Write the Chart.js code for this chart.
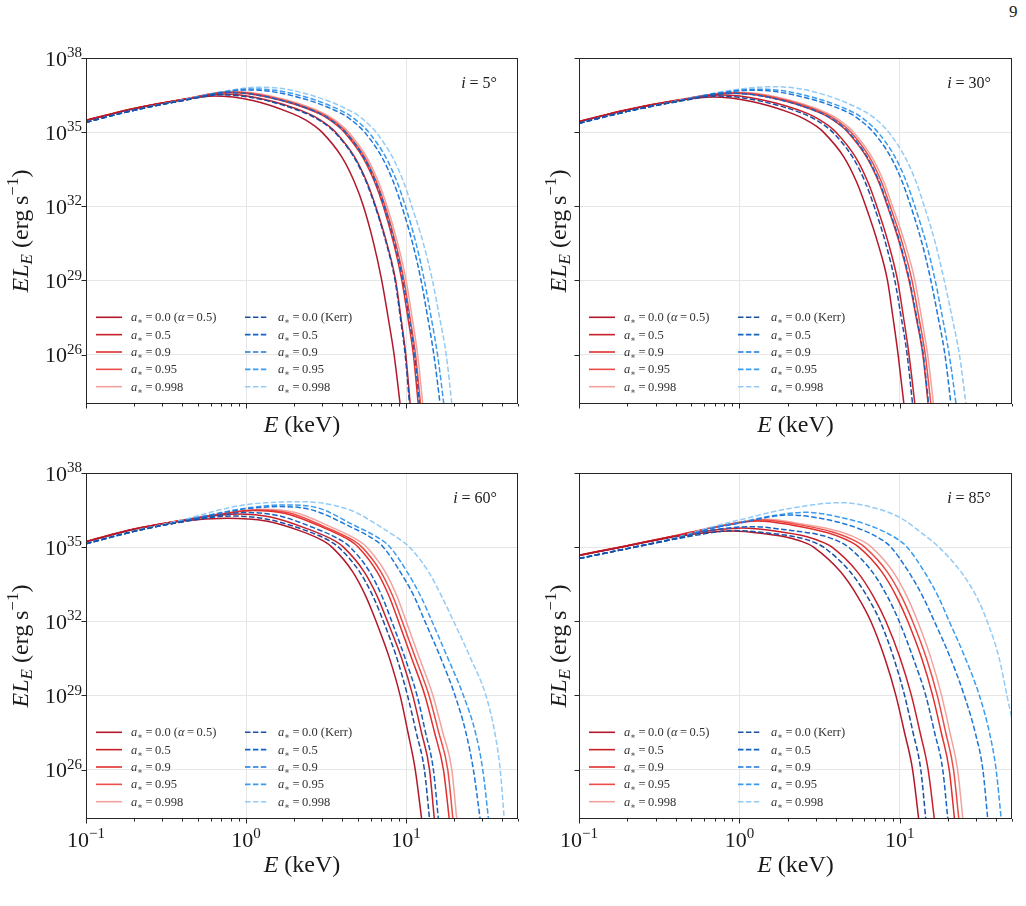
<!DOCTYPE html>
<html>
<head>
<meta charset="utf-8">
<script src="https://cdn.jsdelivr.net/npm/chart.js@4.4.1/dist/chart.umd.min.js"></script>
<style>
  html, body { margin: 0; padding: 0; background: #fff; }
  body { width: 1026px; height: 906px; position: relative; overflow: hidden; }
  .panel { position: absolute; }
  #page-num { position: absolute; left: 1009px; top: 2px; font: 17px 'Liberation Serif', 'DejaVu Serif', serif; color: #222; }
</style>
</head>
<body>
<div id="page-num">9</div>
<div class="panel" style="left:0px;top:0px"><canvas id="p0" width="524" height="460"></canvas></div>
<div class="panel" style="left:493px;top:0px"><canvas id="p1" width="525" height="460"></canvas></div>
<div class="panel" style="left:0px;top:415px"><canvas id="p2" width="524" height="491"></canvas></div>
<div class="panel" style="left:493px;top:415px"><canvas id="p3" width="525" height="491"></canvas></div>
<script>
// spin labels, inclinations and axis ticks
const spinValues = ['0.0', '0.5', '0.9', '0.95', '0.998'];
const inclinations = [5, 30, 60, 85];
const xTickValues = [0.1, 0.2, 0.3, 0.4, 0.5, 0.6, 0.7, 0.8, 0.9, 1, 2, 3, 4, 5, 6, 7, 8, 9, 10, 20, 30, 40, 50];
const xTickLabels = { 0.1: '\u22121', 1: '0', 10: '1' };
const yTickValues = [1e26, 1e29, 1e32, 1e35, 1e38];
const yTickLabels = { 1e26: '26', 1e29: '29', 1e32: '32', 1e35: '35', 1e38: '38' };

const redColors = ['#b2182b', '#c8202a', '#df2f2f', '#eb4c46', '#f3a29d'];
const blueColors = ['#1b4fa3', '#1662c2', '#1d78da', '#3b9cef', '#93cbf6'];

// curves: [E (keV), log10 E L_E]
const inc5Alpha = [
  [[0.1,35.47],[0.2,35.95],[0.4,36.31],[0.63,36.46],[1.1,36.28],[1.95,35.75],[2.35,35.5],[2.68,35.25],[2.98,35],[3.96,34],[4.74,33],[5.41,32],[6.27,30.5],[7.04,29],[7.72,27.5],[8.41,26],[9.17,24],[9.93,22]],
  [[0.1,35.47],[0.2,35.95],[0.4,36.31],[0.7,36.54],[1.23,36.36],[2.46,35.75],[2.9,35.5],[3.29,35.25],[3.63,35],[4.76,34],[5.67,33],[6.45,32],[7.58,30.5],[8.6,29],[9.28,27.5],[9.95,26],[10.6,24],[11.25,22]],
  [[0.1,35.48],[0.2,35.96],[0.4,36.32],[0.77,36.6],[1.35,36.42],[2.86,35.75],[3.33,35.5],[3.74,35.25],[4.11,35],[5.34,34],[6.34,33],[7.2,32],[8.36,30.5],[9.4,29],[10.25,27.5],[11.1,26],[11.9,24],[12.7,22]],
  [[0.1,35.48],[0.2,35.96],[0.4,36.32],[0.79,36.62],[1.38,36.44],[2.97,35.75],[3.45,35.5],[3.87,35.25],[4.24,35],[5.5,34],[6.52,33],[7.4,32],[8.61,30.5],[9.7,29],[10.57,27.5],[11.45,26],[12.3,24],[13.15,22]],
  [[0.1,35.49],[0.2,35.97],[0.4,36.33],[0.81,36.64],[1.42,36.46],[3.09,35.75],[3.57,35.5],[3.99,35.25],[4.38,35],[5.66,34],[6.7,33],[7.6,32],[8.86,30.5],[10.0,29],[10.9,27.5],[11.8,26],[12.7,24],[13.6,22]]
];
const inc5Kerr = [
  [[0.1,35.40],[0.2,35.89],[0.4,36.27],[0.7,36.51],[1.23,36.33],[2.39,35.75],[2.84,35.5],[3.23,35.25],[3.57,35],[4.71,34],[5.62,33],[6.4,32],[7.52,30.5],[8.53,29],[9.2,27.5],[9.86,26],[10.5,24],[11.14,22]],
  [[0.1,35.40],[0.2,35.89],[0.4,36.28],[0.78,36.6],[1.37,36.42],[2.9,35.75],[3.37,35.5],[3.79,35.25],[4.17,35],[5.42,34],[6.43,33],[7.3,32],[8.49,30.5],[9.55,29],[10.42,27.5],[11.3,26],[12.1,24],[12.9,22]],
  [[0.1,35.40],[0.2,35.89],[0.4,36.28],[0.7,36.6],[1.02,36.71],[1.79,36.53],[3.96,35.75],[4.53,35.5],[5.04,35.25],[5.5,35],[7.04,34],[8.31,33],[9.4,32],[10.98,30.5],[12.4,29],[13.64,27.5],[14.9,26],[16.3,24],[17.7,22]],
  [[0.1,35.40],[0.2,35.89],[0.4,36.29],[0.7,36.61],[1.1,36.75],[1.93,36.57],[4.26,35.75],[4.84,35.5],[5.36,35.25],[5.84,35],[7.44,34],[8.76,33],[9.9,32],[11.53,30.5],[13.0,29],[14.34,27.5],[15.7,26],[17.2,24],[18.7,22]],
  [[0.1,35.40],[0.2,35.89],[0.4,36.3],[0.7,36.63],[1.2,36.82],[2.1,36.64],[4.82,35.75],[5.43,35.5],[5.98,35.25],[6.49,35],[8.2,34],[9.62,33],[10.85,32],[12.81,30.5],[14.6,29],[16.18,27.5],[17.8,26],[19.3,24],[20.8,22]]
];

const inc30Alpha = [
  [[0.1,35.42],[0.2,35.9],[0.4,36.26],[0.68,36.42],[1.19,36.24],[2.14,35.75],[2.6,35.5],[3.0,35.25],[3.34,35],[4.47,34],[5.36,33],[6.13,32],[7.3,30.5],[8.37,29],[9.06,27.5],[9.75,26],[10.6,24],[11.45,22]],
  [[0.1,35.42],[0.2,35.9],[0.4,36.27],[0.77,36.5],[1.35,36.32],[2.67,35.75],[3.17,35.5],[3.61,35.25],[4.0,35],[5.28,34],[6.3,33],[7.18,32],[8.49,30.5],[9.68,29],[10.54,27.5],[11.4,26],[12.4,24],[13.4,22]],
  [[0.1,35.43],[0.2,35.91],[0.4,36.28],[0.9,36.57],[1.58,36.39],[3.26,35.75],[3.82,35.5],[4.31,35.25],[4.74,35],[6.19,34],[7.36,33],[8.37,32],[9.95,30.5],[11.4,29],[12.64,27.5],[13.9,26],[15.0,24],[16.1,22]],
  [[0.1,35.43],[0.2,35.91],[0.4,36.28],[0.93,36.59],[1.63,36.41],[3.43,35.75],[4.0,35.5],[4.5,35.25],[4.96,35],[6.45,34],[7.66,33],[8.7,32],[10.37,30.5],[11.9,29],[13.14,27.5],[14.4,26],[15.6,24],[16.8,22]],
  [[0.1,35.44],[0.2,35.92],[0.4,36.29],[0.96,36.61],[1.68,36.43],[3.59,35.75],[4.18,35.5],[4.69,35.25],[5.15,35],[6.68,34],[7.93,33],[9.0,32],[10.77,30.5],[12.4,29],[13.64,27.5],[14.9,26],[16.2,24],[17.5,22]]
];
const inc30Kerr = [
  [[0.1,35.36],[0.2,35.84],[0.4,36.22],[0.74,36.46],[1.3,36.28],[2.49,35.75],[3.0,35.5],[3.43,35.25],[3.81,35],[5.06,34],[6.06,33],[6.91,32],[8.16,30.5],[9.3,29],[10.2,27.5],[11.1,26],[12.0,24],[12.9,22]],
  [[0.1,35.36],[0.2,35.84],[0.4,36.23],[0.9,36.57],[1.58,36.39],[3.29,35.75],[3.86,35.5],[4.35,35.25],[4.79,35],[6.25,34],[7.43,33],[8.45,32],[10.04,30.5],[11.5,29],[12.74,27.5],[14.0,26],[15.1,24],[16.2,22]],
  [[0.1,35.36],[0.2,35.84],[0.4,36.24],[0.7,36.55],[1.22,36.7],[2.14,36.52],[4.91,35.75],[5.62,35.5],[6.25,35.25],[6.83,35],[8.76,34],[10.33,33],[11.7,32],[13.75,30.5],[15.6,29],[17.33,27.5],[19.1,26],[20.8,24],[22.5,22]],
  [[0.1,35.36],[0.2,35.84],[0.4,36.24],[0.7,36.56],[1.32,36.74],[2.31,36.56],[5.31,35.75],[6.04,35.5],[6.7,35.25],[7.3,35],[9.32,34],[10.97,33],[12.4,32],[14.6,30.5],[16.6,29],[18.43,27.5],[20.3,26],[22.4,24],[24.5,22]],
  [[0.1,35.36],[0.2,35.84],[0.4,36.25],[0.7,36.58],[1.0,36.74],[1.6,36.84],[2.8,36.66],[6.36,35.75],[7.15,35.5],[7.87,35.25],[8.52,35],[10.75,34],[12.6,33],[14.2,32],[16.66,30.5],[18.9,29],[21.17,27.5],[23.5,26],[25.8,24],[28.1,22]]
];

const inc60Alpha = [
  [[0.1,35.22],[0.2,35.72],[0.4,36.06],[0.76,36.17],[1.33,36.06],[2.18,35.66],[3.04,35.25],[3.44,35],[4.64,34],[5.61,33],[6.49,32],[7.88,30.5],[9.17,29],[10.27,27.5],[11.4,26],[12.5,24],[13.6,22]],
  [[0.1,35.22],[0.2,35.72],[0.4,36.08],[0.89,36.34],[1.42,36.22],[2.42,35.74],[3.59,35.25],[4.06,35],[5.47,34],[6.61,33],[7.64,32],[9.37,30.5],[11.0,29],[12.47,27.5],[14.0,26],[15.0,24],[16.0,22]],
  [[0.1,35.23],[0.2,35.73],[0.4,36.09],[0.7,36.33],[1.1,36.48],[1.76,36.36],[3.01,35.8],[4.49,35.25],[5.03,35],[6.59,34],[7.84,33],[8.95,32],[10.83,30.5],[13.1,29],[15.05,27.5],[17.1,26],[18.6,24],[20.1,22]],
  [[0.1,35.23],[0.2,35.73],[0.4,36.09],[0.7,36.34],[1.17,36.5],[1.87,36.38],[3.13,35.81],[4.73,35.25],[5.3,35],[6.95,34],[8.27,33],[9.45,32],[11.46,30.5],[13.9,29],[15.99,27.5],[18.2,26],[19.6,24],[21.0,22]],
  [[0.1,35.24],[0.2,35.74],[0.4,36.1],[0.7,36.35],[1.25,36.53],[2.0,36.41],[3.35,35.83],[5.08,35.25],[5.68,35],[7.41,34],[8.78,33],[10.0,32],[12.13,30.5],[14.7,29],[16.94,27.5],[19.3,26],[20.7,24],[22.1,22]]
];
const inc60Kerr = [
  [[0.1,35.14],[0.2,35.64],[0.4,36.02],[0.83,36.26],[1.33,36.14],[2.3,35.7],[3.33,35.25],[3.78,35],[5.12,34],[6.22,33],[7.21,32],[8.76,30.5],[10.2,29],[11.57,27.5],[13.0,26],[14.0,24],[15.0,22]],
  [[0.1,35.14],[0.2,35.64],[0.4,36.03],[0.7,36.3],[0.98,36.4],[1.57,36.28],[2.68,35.77],[3.98,35.25],[4.47,35],[5.92,34],[7.08,33],[8.13,32],[9.86,30.5],[11.7,29],[13.22,27.5],[14.8,26],[15.9,24],[17.0,22]],
  [[0.1,35.14],[0.2,35.64],[0.4,36.05],[0.7,36.38],[1.0,36.55],[1.59,36.64],[2.54,36.52],[4.31,35.88],[6.52,35.25],[7.21,35],[9.19,34],[11.23,33],[13.1,32],[16.49,30.5],[20.2,29],[23.63,27.5],[26.3,26],[29.0,24],[31.7,22]],
  [[0.1,35.14],[0.2,35.64],[0.4,36.06],[0.7,36.4],[1.0,36.58],[1.75,36.71],[2.8,36.59],[4.65,35.91],[7.17,35.25],[7.94,35],[10.14,34],[12.36,33],[14.5,32],[18.25,30.5],[22.8,29],[27.1,27.5],[30.1,26],[32.7,24],[35.3,22]],
  [[0.1,35.15],[0.2,35.66],[0.4,36.1],[0.7,36.52],[1.0,36.72],[2.2,36.84],[4.47,36.5],[6.9,35.83],[9.17,35.3],[10.5,35],[13.8,34],[16.7,33],[19.8,32],[25.3,30.5],[31.5,29],[35.8,27.5],[38.7,26],[41.0,24],[43.3,22]]
];

const inc85Alpha = [
  [[0.1,34.66],[0.2,35.05],[0.4,35.42],[0.9,35.65],[1.4,35.55],[2.1,35.36],[2.67,35.13],[2.9,35],[4.27,34],[5.46,33],[6.59,32],[8.06,30.5],[9.44,29],[10.69,27.5],[12.0,26],[13.1,24],[14.2,22]],
  [[0.1,34.66],[0.2,35.05],[0.4,35.45],[1.05,35.77],[1.63,35.66],[2.64,35.42],[3.44,35.15],[3.78,35],[5.43,34],[6.85,33],[8.18,32],[10.04,30.5],[11.8,29],[13.37,27.5],[15.0,26],[16.4,24],[17.8,22]],
  [[0.1,34.67],[0.2,35.06],[0.4,35.46],[0.7,35.8],[1.3,36.06],[2.1,35.9],[3.55,35.58],[4.94,35.21],[5.55,35],[7.72,34],[9.53,33],[11.2,32],[13.68,30.5],[16.0,29],[18.11,27.5],[20.3,26],[21.9,24],[23.5,22]],
  [[0.1,34.67],[0.2,35.06],[0.4,35.46],[0.7,35.81],[1.4,36.1],[2.2,35.94],[3.85,35.6],[5.37,35.22],[6.04,35],[8.34,34],[10.25,33],[12.0,32],[14.64,30.5],[17.1,29],[19.31,27.5],[21.6,26],[23.3,24],[25.0,22]],
  [[0.1,34.68],[0.2,35.07],[0.4,35.47],[0.7,35.82],[1.5,36.13],[2.35,35.96],[4.26,35.62],[5.91,35.23],[6.65,35],[9.08,34],[11.08,33],[12.9,32],[15.64,30.5],[18.2,29],[20.51,27.5],[22.9,26],[24.7,24],[26.5,22]]
];
const inc85Kerr = [
  [[0.1,34.54],[0.2,34.94],[0.4,35.33],[0.95,35.67],[1.5,35.57],[2.41,35.37],[3.08,35.13],[3.35,35],[4.9,34],[6.26,33],[7.54,32],[9.17,30.5],[10.7,29],[12.08,27.5],[13.5,26],[14.5,24],[15.5,22]],
  [[0.1,34.54],[0.2,34.94],[0.4,35.34],[0.7,35.7],[1.2,35.83],[1.95,35.7],[3.33,35.46],[4.35,35.17],[4.78,35],[6.73,34],[8.37,33],[9.9,32],[12.12,30.5],[14.5,29],[16.46,27.5],[18.5,26],[19.9,24],[21.3,22]],
  [[0.1,34.54],[0.2,34.94],[0.4,35.35],[0.7,35.78],[1.0,35.97],[2.0,36.3],[3.3,36.15],[5.71,35.72],[7.88,35.26],[8.8,35],[11.34,34],[13.9,33],[16.4,32],[20.71,30.5],[25.2,29],[29.48,27.5],[32.9,26],[35.3,24],[37.7,22]],
  [[0.1,34.54],[0.2,34.94],[0.4,35.36],[0.7,35.8],[1.0,36.0],[1.6,36.27],[2.6,36.41],[4.3,36.2],[7.07,35.78],[9.89,35.28],[11.1,35],[14.22,34],[17.34,33],[20.3,32],[25.63,30.5],[31.3,29],[36.15,27.5],[39.8,26],[42.8,24],[45.8,22]],
  [[0.1,34.55],[0.2,34.96],[0.4,35.38],[0.7,35.85],[1.0,36.1],[2.0,36.55],[4.3,36.8],[7.0,36.58],[10.0,36.2],[13.5,35.6],[17.5,35],[24.04,34],[30.03,33],[35.0,32],[41.6,30.5],[46.5,29],[50.5,27.9],[56,26.5]]
];

const alphaSets = [inc5Alpha, inc30Alpha, inc60Alpha, inc85Alpha];
const kerrSets = [inc5Kerr, inc30Kerr, inc60Kerr, inc85Kerr];

const SERIF = "'Liberation Serif', 'DejaVu Serif', serif";
const f = (size, italic) => (italic ? 'italic ' : '') + size + 'px ' + SERIF;

function isDecade(v) {
  const l = Math.log10(v);
  return Math.abs(l - Math.round(l)) < 1e-6;
}

// draw a row of text pieces with their own fonts and baseline shifts
function drawRuns(ctx, runs, x, y, align) {
  let total = 0;
  runs.forEach(r => { ctx.font = r.font; r.w = ctx.measureText(r.t).width; total += r.w; });
  let cx = align === 'center' ? x - total / 2 : (align === 'right' ? x - total : x);
  runs.forEach(r => {
    ctx.font = r.font;
    ctx.fillText(r.t, cx, y + (r.dy || 0));
    cx += r.w;
  });
}

function legendRuns(ds) {
  const runs = [
    { t: 'a', font: f(12.5, true) },
    { t: '\u2217', font: f(8.5), dy: 3 },
    { t: '\u2009=\u2009' + ds.spin, font: f(12.5) }
  ];
  if (ds.note === 'alpha') {
    runs.push({ t: ' (', font: f(12.5) }, { t: '\u03b1', font: f(12.5, true) }, { t: '\u2009=\u20090.5)', font: f(12.5) });
  } else if (ds.note === 'kerr') {
    runs.push({ t: ' (Kerr)', font: f(12.5) });
  }
  return runs;
}

const decorPlugin = {
  id: 'decor',
  afterDraw(chart, args, opts) {
    const { ctx, chartArea: a, scales: { x, y } } = chart;
    ctx.save();
    ctx.textAlign = 'left';
    ctx.textBaseline = 'alphabetic';

    // frame
    ctx.strokeStyle = '#262626';
    ctx.lineWidth = 1;
    ctx.strokeRect(a.left + 0.5, a.top + 0.5, a.right - a.left - 1, a.bottom - a.top - 1);

    // tick marks
    ctx.beginPath();
    x.ticks.forEach(t => {
      const px = Math.round(x.getPixelForValue(t.value)) + 0.5;
      const len = isDecade(t.value) ? 4.5 : 2.5;
      ctx.moveTo(px, a.bottom);
      ctx.lineTo(px, a.bottom + len);
    });
    y.ticks.forEach(t => {
      const py = Math.round(y.getPixelForValue(t.value)) + 0.5;
      ctx.moveTo(a.left, py);
      ctx.lineTo(a.left - 4.5, py);
    });
    ctx.stroke();

    ctx.fillStyle = '#1a1a1a';
    // tick labels
    if (opts.yLabels) {
      y.ticks.forEach(t => {
        const py = y.getPixelForValue(t.value);
        drawRuns(ctx, [{ t: '10', font: f(22) }, { t: yTickLabels[t.value], font: f(15), dy: -8.5 }], a.left - 4, py + 7.7, 'right');
      });
    }
    if (opts.xLabels) {
      x.ticks.forEach(t => {
        if (!(t.value in xTickLabels)) return;
        const px = x.getPixelForValue(t.value);
        drawRuns(ctx, [{ t: '10', font: f(22) }, { t: xTickLabels[t.value], font: f(15), dy: -9 }], px, a.bottom + 28, 'center');
      });
    }

    // axis titles
    drawRuns(ctx, [{ t: 'E', font: f(24, true) }, { t: ' (keV)', font: f(24) }],
      (a.left + a.right) / 2, a.bottom + (opts.xLabels ? 53 : 28), 'center');
    ctx.save();
    ctx.translate(a.left - (opts.yLabels ? 58 : 13), (a.top + a.bottom) / 2);
    ctx.rotate(-Math.PI / 2);
    drawRuns(ctx, [
      { t: 'EL', font: f(24, true) },
      { t: 'E', font: f(17, true), dy: 4 },
      { t: ' (erg\u2009s', font: f(24) },
      { t: '\u22121', font: f(17), dy: -10 },
      { t: ')', font: f(24) }
    ], 0, 0, 'center');
    ctx.restore();

    // inclination label
    drawRuns(ctx, [{ t: 'i', font: f(16, true) }, { t: ' = ' + opts.inclination + '\u00b0', font: f(16) }],
      a.right - 21, a.top + 30, 'right');

    // legend, two columns inside the lower left corner
    ctx.lineWidth = 1.6;
    chart.data.datasets.forEach(ds => {
      const col = ds.kind === 'kerr' ? 1 : 0;
      const rowY = a.bottom - 86.7 + 17.35 * ds.row;
      const x0 = a.left + (col ? 159 : 10);
      const x1 = a.left + (col ? 181 : 36);
      ctx.strokeStyle = ds.borderColor;
      ctx.setLineDash(col ? [5.5, 2.4] : []);
      ctx.beginPath();
      ctx.moveTo(x0, rowY);
      ctx.lineTo(x1, rowY);
      ctx.stroke();
      ctx.setLineDash([]);
      ctx.fillStyle = '#333';
      drawRuns(ctx, legendRuns(ds), a.left + (col ? 192 : 45), rowY + 4, 'left');
    });
    ctx.restore();
  }
};

function buildDatasets(alphaCurves, kerrCurves) {
  const datasets = [];
  alphaCurves.forEach((curve, k) => {
    datasets.push({
      label: 'a* = ' + spinValues[k] + (k === 0 ? ' (alpha = 0.5)' : ''),
      kind: 'alpha', row: k, spin: spinValues[k], note: k === 0 ? 'alpha' : '',
      data: curve.map(([e, l]) => ({ x: e, y: Math.pow(10, l) })),
      borderColor: redColors[k],
      borderWidth: 1.5,
      pointRadius: 0,
      cubicInterpolationMode: 'monotone',
      fill: false,
      order: 2
    });
  });
  kerrCurves.forEach((curve, k) => {
    datasets.push({
      label: 'a* = ' + spinValues[k] + (k === 0 ? ' (Kerr)' : ''),
      kind: 'kerr', row: k, spin: spinValues[k], note: k === 0 ? 'kerr' : '',
      data: curve.map(([e, l]) => ({ x: e, y: Math.pow(10, l) })),
      borderColor: blueColors[k],
      borderWidth: 1.5,
      borderDash: [5.5, 2.4],
      pointRadius: 0,
      cubicInterpolationMode: 'monotone',
      fill: false,
      order: 1
    });
  });
  return datasets;
}

inclinations.forEach((inc, i) => {
  const canvas = document.getElementById('p' + i);
  const leftCol = i % 2 === 0;
  const bottomRow = i >= 2;
  const xAxisHeight = canvas.height - 58 - 346;
  new Chart(canvas.getContext('2d'), {
    type: 'line',
    data: { datasets: buildDatasets(alphaSets[i], kerrSets[i]) },
    options: {
      responsive: false,
      animation: false,
      devicePixelRatio: 1,
      layout: { padding: { top: 58, right: 6, left: 0, bottom: 0 } },
      scales: {
        x: {
          type: 'logarithmic',
          min: 0.1,
          max: 50,
          afterBuildTicks: s => { s.ticks = xTickValues.map(v => ({ value: v })); },
          afterFit: s => { s.height = xAxisHeight; },
          ticks: { display: false },
          border: { display: false },
          grid: {
            drawTicks: false,
            lineWidth: 1,
            color: c => (c.tick && isDecade(c.tick.value)) ? '#e6e6e6' : 'rgba(0,0,0,0)'
          }
        },
        y: {
          type: 'logarithmic',
          min: 1e24,
          max: 1e38,
          afterBuildTicks: s => { s.ticks = yTickValues.map(v => ({ value: v })); },
          afterFit: s => { s.width = 86; },
          ticks: { display: false },
          border: { display: false },
          grid: { drawTicks: false, lineWidth: 1, color: '#e6e6e6' }
        }
      },
      plugins: {
        legend: { display: false },
        tooltip: { enabled: false },
        decor: { inclination: inc, yLabels: leftCol, xLabels: bottomRow }
      }
    },
    plugins: [decorPlugin]
  });
});
</script>
</body>
</html>
